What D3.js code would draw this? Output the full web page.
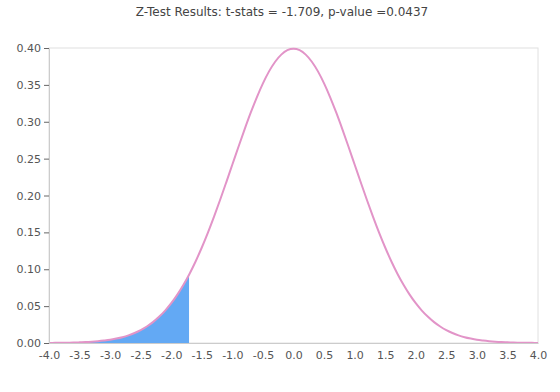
<!DOCTYPE html>
<html>
<head>
<meta charset="utf-8">
<script src="https://cdn.jsdelivr.net/npm/d3@7"></script>
<style>
  body { margin: 0; background: #fff; }
  text { font-family: "DejaVu Sans", sans-serif; }
</style>
</head>
<body>
<div id="chart"></div>
<script>
// Curve points (standard normal density)
const xValues = [-4.0, -3.9, -3.8, -3.7, -3.6, -3.5, -3.4, -3.3, -3.2, -3.1,
  -3.0, -2.9, -2.8, -2.7, -2.6, -2.5, -2.4, -2.3, -2.2, -2.1,
  -2.0, -1.9, -1.8, -1.7, -1.6, -1.5, -1.4, -1.3, -1.2, -1.1,
  -1.0, -0.9, -0.8, -0.7, -0.6, -0.5, -0.4, -0.3, -0.2, -0.1,
  0.0, 0.1, 0.2, 0.3, 0.4, 0.5, 0.6, 0.7, 0.8, 0.9,
  1.0, 1.1, 1.2, 1.3, 1.4, 1.5, 1.6, 1.7, 1.8, 1.9,
  2.0, 2.1, 2.2, 2.3, 2.4, 2.5, 2.6, 2.7, 2.8, 2.9,
  3.0, 3.1, 3.2, 3.3, 3.4, 3.5, 3.6, 3.7, 3.8, 3.9, 4.0];
const yValues = [0.0001, 0.0002, 0.0003, 0.0004, 0.0006, 0.0009, 0.0012, 0.0017, 0.0024, 0.0033,
  0.0044, 0.0060, 0.0079, 0.0104, 0.0136, 0.0175, 0.0224, 0.0283, 0.0355, 0.0440,
  0.0540, 0.0656, 0.0790, 0.0940, 0.1109, 0.1295, 0.1497, 0.1714, 0.1942, 0.2179,
  0.2420, 0.2661, 0.2897, 0.3123, 0.3332, 0.3521, 0.3683, 0.3814, 0.3910, 0.3970,
  0.3989, 0.3970, 0.3910, 0.3814, 0.3683, 0.3521, 0.3332, 0.3123, 0.2897, 0.2661,
  0.2420, 0.2179, 0.1942, 0.1714, 0.1497, 0.1295, 0.1109, 0.0940, 0.0790, 0.0656,
  0.0540, 0.0440, 0.0355, 0.0283, 0.0224, 0.0175, 0.0136, 0.0104, 0.0079, 0.0060,
  0.0044, 0.0033, 0.0024, 0.0017, 0.0012, 0.0009, 0.0006, 0.0004, 0.0003, 0.0002, 0.0001];

// Shaded tail, up to the test statistic
const tStat = -1.709;
const tStatY = 0.0925;

const xTicks = [-4.0, -3.5, -3.0, -2.5, -2.0, -1.5, -1.0, -0.5, 0.0, 0.5, 1.0, 1.5, 2.0, 2.5, 3.0, 3.5, 4.0];
const yTicks = [0.00, 0.05, 0.10, 0.15, 0.20, 0.25, 0.30, 0.35, 0.40];

const titleText = "Z-Test Results: t-stats = -1.709, p-value =0.0437";

const W = 560, H = 392;
const margin = { top: 48, right: 22, bottom: 49, left: 49 };
const width = W - margin.left - margin.right;
const height = H - margin.top - margin.bottom;

// plain hyphen for negative labels, like the original
const fmt = digits => d => d.toFixed(digits);

const svg = d3.select("#chart").append("svg")
  .attr("width", W).attr("height", H);

svg.append("text")
  .attr("x", W / 2 + 2).attr("y", 16)
  .attr("text-anchor", "middle")
  .style("font-size", "12px")
  .style("fill", "#444")
  .text(titleText);

const g = svg.append("g")
  .attr("transform", "translate(" + margin.left + "," + margin.top + ")");

const x = d3.scaleLinear().domain([-4, 4]).range([0, width]);
const y = d3.scaleLinear().domain([0, 0.4]).range([height, 0]);

// frame
g.append("rect")
  .attr("x", 0).attr("y", 0)
  .attr("width", width).attr("height", height)
  .attr("fill", "none")
  .attr("stroke", "#e0e0e0");

// shaded tail
const points = xValues.map((d, i) => ({ x: d, y: yValues[i] }));
const tail = points.filter(d => d.x <= tStat);
tail.push({ x: tStat, y: tStatY });

g.append("path")
  .datum(tail)
  .attr("fill", "#63a9f4")
  .attr("d", d3.area()
    .x(d => x(d.x))
    .y0(y(0))
    .y1(d => y(d.y))
    .curve(d3.curveMonotoneX));

// density curve
g.append("path")
  .datum(points)
  .attr("fill", "none")
  .attr("stroke", "#e294c8")
  .attr("stroke-width", 2)
  .attr("d", d3.line()
    .x(d => x(d.x))
    .y(d => y(d.y))
    .curve(d3.curveMonotoneX));

// y axis
const yAxis = g.append("g")
  .call(d3.axisLeft(y).tickValues(yTicks).tickFormat(fmt(2)).tickSize(5).tickSizeOuter(0));
yAxis.select(".domain").attr("stroke", "#ccc");
yAxis.selectAll(".tick line").attr("stroke", "#666");
yAxis.selectAll("text")
  .attr("x", -8)
  .style("font-size", "11px")
  .style("font-family", "DejaVu Sans, sans-serif")
  .style("fill", "#555");

// x axis
const xAxis = g.append("g")
  .attr("transform", "translate(0," + height + ")")
  .call(d3.axisBottom(x).tickValues(xTicks).tickFormat(fmt(1)).tickSize(0).tickSizeOuter(0));
xAxis.select(".domain").attr("stroke", "#ccc");
xAxis.selectAll("text")
  .attr("y", 8)
  .style("font-size", "11px")
  .style("font-family", "DejaVu Sans, sans-serif")
  .style("fill", "#555");
</script>
</body>
</html>
